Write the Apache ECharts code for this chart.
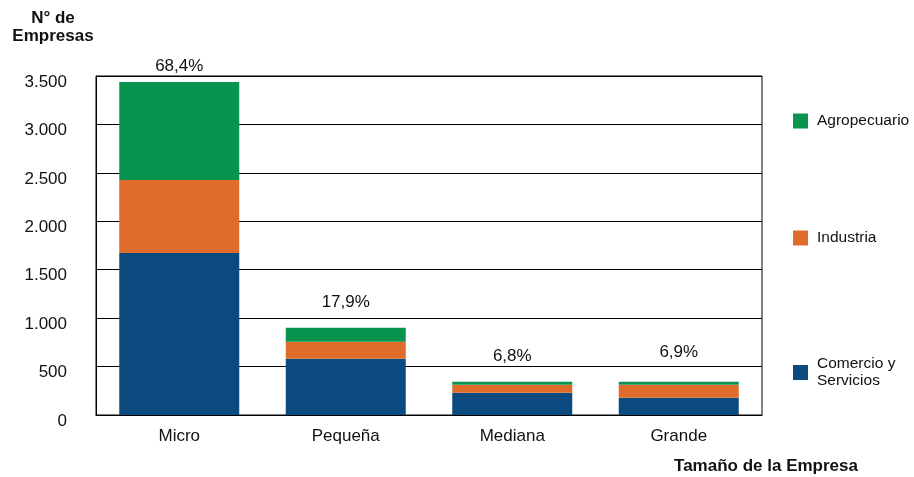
<!DOCTYPE html>
<html>
<head>
<meta charset="utf-8">
<title>Empresas por tamaño</title>
<script src="https://cdn.jsdelivr.net/npm/echarts@6/dist/echarts.min.js"></script>
<style>
    html, body { margin: 0; padding: 0; background: #fff; }
    #chart { width: 914px; height: 477px; }
</style>
</head>
<body>
<div id="chart"></div>
<script>
// Data
var categories = ['Micro', 'Pequeña', 'Mediana', 'Grande'];
var comercio = [1673, 580, 230, 178];
var industria = [753, 176, 82, 134];
var agropecuario = [1013, 144, 31, 31];
var porcentajes = ['68,4%', '17,9%', '6,8%', '6,9%'];
var yTicks = [0, 500, 1000, 1500, 2000, 2500, 3000, 3500];

var fontFamily = "'Liberation Sans', Arial, Helvetica, sans-serif";
var colors = {
    agro: '#08944f',
    industria: '#e06c2b',
    comercio: '#0b4a7e'
};
// label gap above each bar (the original isn't uniform)
var labelGap = { 0: 7, 3: 21 };

// thousands separator with a dot, as in the original
var fmtMiles = function(v) {
    return String(v).replace(/\B(?=(\d{3})+(?!\d))/g, '.');
};

var legendBase = function(name, top, extra) {
    var l = {
        data: [name],
        orient: 'vertical',
        left: 793,
        top: top,
        padding: 0,
        itemWidth: 15,
        itemHeight: 15,
        icon: 'rect',
        selectedMode: false,
        textStyle: {
            fontFamily: fontFamily,
            fontSize: 15.5,
            color: '#111',
            padding: [0, 0, 0, 4]
        }
    };
    if (extra) {
        for (var k in extra) l[k] = extra[k];
    }
    return l;
};

var agroData = agropecuario.map(function(v, i) {
    if (labelGap[i] !== undefined) {
        return { value: v, label: { distance: labelGap[i] } };
    }
    return v;
});

var chart = echarts.init(document.getElementById('chart'));
var option = {
    animation: false,
    backgroundColor: '#fff',
    title: [{
            text: 'N° de\nEmpresas',
            left: 53,
            top: 9,
            textAlign: 'center',
            padding: 0,
            textStyle: {
                fontFamily: fontFamily,
                fontSize: 17,
                fontWeight: 'bold',
                color: '#111',
                lineHeight: 18
            }
        },
        {
            text: 'Tamaño de la Empresa',
            left: 766,
            top: 458,
            textAlign: 'center',
            padding: 0,
            textStyle: {
                fontFamily: fontFamily,
                fontSize: 17,
                fontWeight: 'bold',
                color: '#111'
            }
        }
    ],
    legend: [
        legendBase('Agropecuario', 113),
        legendBase('Industria', 230),
        legendBase('Comercio y Servicios', 347, {
            formatter: function() { return 'Comercio y\nServicios'; },
            textStyle: {
                fontFamily: fontFamily,
                fontSize: 15.5,
                color: '#111',
                lineHeight: 17,
                padding: [17, 0, 0, 4]
            }
        })
    ],
    grid: {
        left: 96,
        right: 152,
        top: 76,
        bottom: 62,
        show: true,
        borderColor: '#000',
        borderWidth: 1,
        backgroundColor: '#fff'
    },
    xAxis: {
        type: 'category',
        data: categories,
        axisLine: { lineStyle: { color: '#000', width: 1 } },
        axisTick: { show: false },
        axisLabel: {
            fontFamily: fontFamily,
            fontSize: 17,
            color: '#111',
            margin: 13
        }
    },
    yAxis: {
        type: 'value',
        min: yTicks[0],
        max: yTicks[yTicks.length - 1],
        interval: 500,
        axisLine: { show: true, lineStyle: { color: '#000', width: 1 } },
        axisTick: { show: false },
        axisLabel: {
            fontFamily: fontFamily,
            fontSize: 17,
            color: '#111',
            margin: 29,
            verticalAlign: 'top',
            lineHeight: 12,
            formatter: fmtMiles
        },
        splitLine: { lineStyle: { color: '#000', width: 1 } }
    },
    series: [{
            name: 'Comercio y Servicios',
            type: 'bar',
            stack: 'total',
            barWidth: 120,
            data: comercio,
            itemStyle: { color: colors.comercio }
        },
        {
            name: 'Industria',
            type: 'bar',
            stack: 'total',
            barWidth: 120,
            data: industria,
            itemStyle: { color: colors.industria }
        },
        {
            name: 'Agropecuario',
            type: 'bar',
            stack: 'total',
            barWidth: 120,
            data: agroData,
            itemStyle: { color: colors.agro },
            label: {
                show: true,
                position: 'top',
                distance: 17,
                fontFamily: fontFamily,
                fontSize: 17,
                color: '#111',
                formatter: function(p) { return porcentajes[p.dataIndex]; }
            }
        }
    ]
};
chart.setOption(option);
</script>
</body>
</html>
